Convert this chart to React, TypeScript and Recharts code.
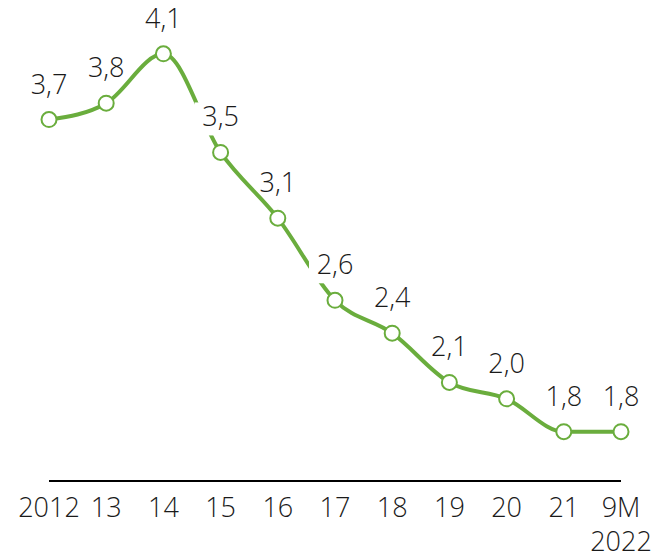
import React from "react";
import { LineChart, Line, XAxis, YAxis } from "recharts";

const categories = ["2012", "13", "14", "15", "16", "17", "18", "19", "20", "21", "9M\n2022"];
const values = [3.7, 3.8, 4.1, 3.5, 3.1, 2.6, 2.4, 2.1, 2.0, 1.8, 1.8];

const data = categories.map((c, i) => ({ name: c, value: values[i] }));

const GREEN = "#6aad3d";
const FONT = "'Open Sans', 'Segoe UI', sans-serif";
const FS = 27;
const maskedLabels = [3, 5];

const fmt = (v: number) => v.toFixed(1).replace(".", ",");

const renderLabel = (props: any) => {
  const { x, y, value, index } = props;
  const base = y - 26;
  return (
    <g key={`lbl-${index}`}>
      {maskedLabels.includes(index) && (
        <rect x={x - 26} y={base - 24} width={50} height={33} fill="#fff" />
      )}
      <text x={x} y={base} textAnchor="middle" fontFamily={FONT} fontSize={FS} fontWeight={300} fill="#1a1a1a">
        {fmt(value)}
      </text>
    </g>
  );
};

const renderTick = (props: any) => {
  const { x, y, payload } = props;
  const lines = String(payload.value).split("\n");
  return (
    <text x={x} y={y} textAnchor="middle" fontFamily={FONT} fontSize={FS} fontWeight={300} fill="#1a1a1a">
      {lines.map((l, i) => (
        <tspan key={i} x={x} dy={i === 0 ? 28 : 34}>
          {l}
        </tspan>
      ))}
    </text>
  );
};

export default function App() {
  return (
    <div style={{ position: "absolute", left: 0, top: 0, width: 656, height: 558, background: "#fff" }}>
      <LineChart width={656} height={558} data={data} margin={{ top: 21, right: 35, bottom: 0, left: 49 }}>
        <XAxis
          dataKey="name"
          axisLine={{ stroke: "#000", strokeWidth: 2 }}
          tickLine={false}
          interval={0}
          tick={renderTick}
          padding={{ left: 0, right: 0 }}
          height={77}
        />
        <YAxis hide domain={[1.5, 4.3]} type="number" />
        <Line
          type="monotone"
          dataKey="value"
          stroke={GREEN}
          strokeWidth={4}
          dot={{ r: 7.5, fill: "#fff", stroke: GREEN, strokeWidth: 2 }}
          activeDot={false}
          label={renderLabel}
          isAnimationActive={false}
        />
      </LineChart>
    </div>
  );
}
